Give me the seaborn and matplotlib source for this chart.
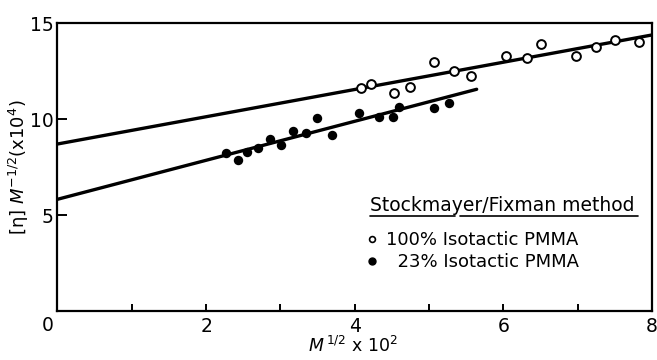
import matplotlib
matplotlib.use("Agg")
import matplotlib.pyplot as plt
import seaborn as sns
import pandas as pd
from matplotlib.lines import Line2D

# ---- data ----
iso100_x = [4.08, 4.22, 4.53, 4.74, 5.07, 5.33, 5.56, 6.03, 6.32, 6.51, 6.97, 7.24, 7.50, 7.83]
iso100_y = [11.63, 11.81, 11.35, 11.68, 12.98, 12.48, 12.24, 13.28, 13.16, 13.90, 13.28, 13.76, 14.11, 14.02]
iso23_x = [2.27, 2.43, 2.55, 2.70, 2.86, 3.01, 3.17, 3.34, 3.49, 3.70, 4.06, 4.32, 4.52, 4.60, 5.06, 5.27]
iso23_y = [8.21, 7.85, 8.26, 8.49, 8.94, 8.63, 9.38, 9.29, 10.04, 9.17, 10.33, 10.09, 10.09, 10.61, 10.59, 10.82]
fit100_x = [0.0, 8.0]
fit100_y = [8.70, 14.38]
fit23_x = [0.0, 5.64]
fit23_y = [5.82, 11.55]
x_ticks = [0, 1, 2, 3, 4, 5, 6, 7, 8]
x_tick_labels = ["", "", "2", "", "4", "", "6", "", "8"]
y_ticks = [5, 10, 15]
y_tick_labels = ["5", "10", "15"]
series_labels = ["100% Isotactic PMMA", "\u200723% Isotactic PMMA"]
legend_title = "Stockmayer/Fixman method"

df100 = pd.DataFrame({"x": iso100_x, "y": iso100_y})
df23 = pd.DataFrame({"x": iso23_x, "y": iso23_y})
fit100 = pd.DataFrame({"x": fit100_x, "y": fit100_y})
fit23 = pd.DataFrame({"x": fit23_x, "y": fit23_y})

sns.set_theme(style="white")
plt.rcParams["font.family"] = ["DejaVu Sans"]
plt.rcParams["mathtext.fontset"] = "dejavusans"
plt.rcParams["text.color"] = "black"
plt.rcParams["axes.labelcolor"] = "black"
plt.rcParams["xtick.color"] = "black"
plt.rcParams["ytick.color"] = "black"

fig = plt.figure(figsize=(6.57, 3.6), dpi=100)
ax = fig.add_axes([0.0875, 0.136, 0.905, 0.80])

sns.lineplot(data=fit100, x="x", y="y", color="black", lw=2.4, ax=ax, zorder=2)
sns.lineplot(data=fit23, x="x", y="y", color="black", lw=2.4, ax=ax, zorder=2)
sns.scatterplot(data=df100, x="x", y="y", marker="o", s=40, facecolor="white",
                edgecolor="black", linewidth=1.4, ax=ax, zorder=3)
sns.scatterplot(data=df23, x="x", y="y", marker="o", s=46, color="black",
                linewidth=0, ax=ax, zorder=3)

ax.set_xlim(0, 8)
ax.set_ylim(0, 15)
ax.set_xticks(x_ticks)
ax.set_xticklabels(x_tick_labels)
ax.set_yticks(y_ticks)
ax.set_yticklabels(y_tick_labels)
for s in ax.spines.values():
    s.set_color("black")
    s.set_linewidth(1.6)
ax.tick_params(axis="x", direction="in", length=5, width=1.4, labelsize=13.5,
               pad=4, colors="black", bottom=True, top=False)
ax.tick_params(axis="y", direction="in", length=7, width=1.4, labelsize=13.5,
               pad=3, colors="black", left=True, right=False)
ax.annotate("0", xy=(0, 0), xycoords="data", xytext=(-9.5, -14),
            textcoords="offset pixels", ha="center", va="center", fontsize=13.5)

ax.set_xlabel(r"$M^{\,1/2}$ x 10$^2$", fontsize=12.5)
ax.xaxis.set_label_coords(0.497, -0.085)
ax.set_ylabel(r"[η] $M^{-1/2}$(x10$^4$)", fontsize=13)
ax.yaxis.set_label_coords(-0.045, 0.5)

# legend
ax.text(0.526, 0.368, legend_title, transform=ax.transAxes, ha="left",
        va="center", fontsize=13.5)
ax.plot([0.526, 0.669], [0.33, 0.33], transform=ax.transAxes, color="black", lw=1.2)
ax.plot([0.677, 0.976], [0.33, 0.33], transform=ax.transAxes, color="black", lw=1.2)
handles = [
    Line2D([], [], marker="o", ls="none", markersize=4.2, markerfacecolor="white",
           markeredgecolor="black", markeredgewidth=1.2),
    Line2D([], [], marker="o", ls="none", markersize=5, color="black"),
]
ax.legend(handles, series_labels, loc="upper left", bbox_to_anchor=(0.5206, 0.278),
          frameon=False, fontsize=13, handlelength=0.6, handletextpad=0.45,
          borderpad=0, borderaxespad=0, labelspacing=0.22, labelcolor="black")

fig.savefig("out.png", dpi=100)
